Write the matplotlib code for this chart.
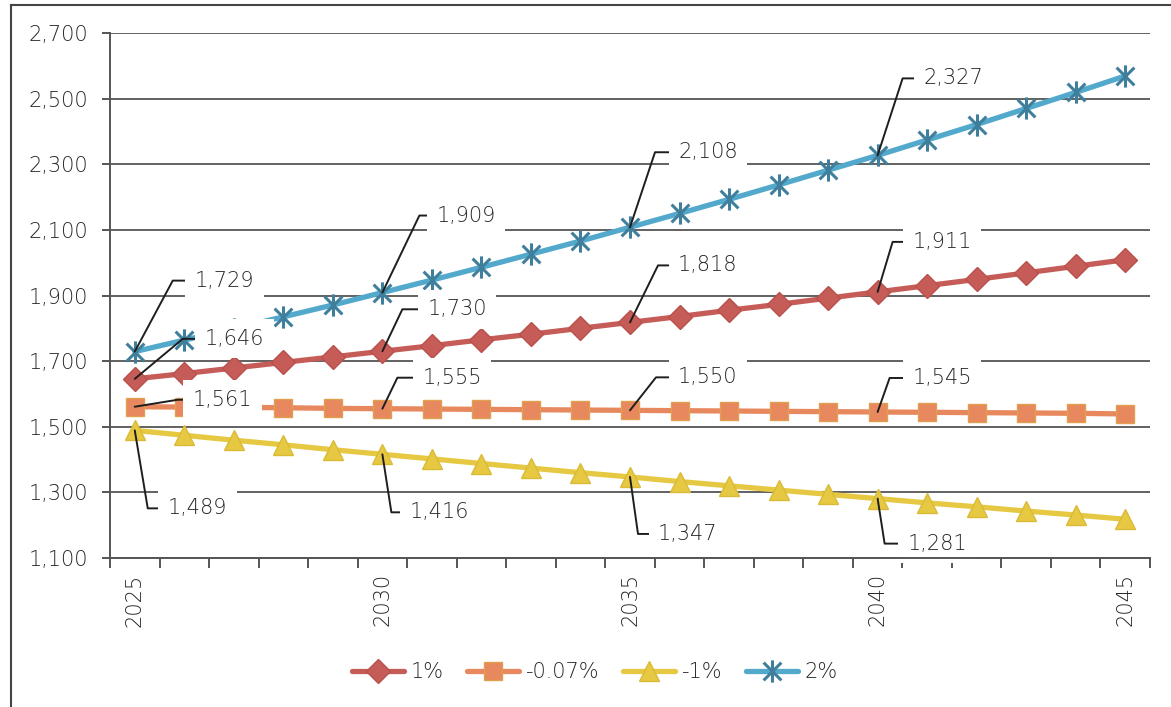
import math
import matplotlib
matplotlib.use("Agg")
import matplotlib.pyplot as plt
from matplotlib.path import Path
from matplotlib.lines import Line2D
from matplotlib.ticker import FuncFormatter, MultipleLocator, FixedLocator

# ---- data -------------------------------------------------------------
years = list(range(2025, 2046))
series_names = ["1%", "-0.07%", "-1%", "2%"]

growth_1 = [1646, 1662, 1679, 1696, 1713, 1730, 1747, 1765, 1782, 1800, 1818,
            1836, 1855, 1873, 1892, 1911, 1930, 1949, 1969, 1989, 2009]
growth_m007 = [1561, 1560, 1559, 1558, 1556, 1555, 1554, 1553, 1552, 1551, 1550,
               1549, 1548, 1547, 1546, 1545, 1544, 1543, 1542, 1541, 1539]
growth_m1 = [1489, 1474, 1459, 1445, 1430, 1416, 1402, 1388, 1374, 1360, 1347,
             1333, 1320, 1307, 1294, 1281, 1268, 1256, 1243, 1231, 1218]
growth_2 = [1729, 1764, 1799, 1835, 1871, 1909, 1947, 1986, 2026, 2066, 2108,
            2150, 2193, 2237, 2282, 2327, 2374, 2421, 2470, 2519, 2569]

labelled_years = [2025, 2030, 2035, 2040]
y_ticks = [1100, 1300, 1500, 1700, 1900, 2100, 2300, 2500, 2700]
x_tick_labels = [2025, 2030, 2035, 2040, 2045]

# ---- styling ----------------------------------------------------------
W, H = 1171, 707
TEXT = "#262626"
GRID = "#555555"
FS = 15
plt.rcParams["font.family"] = ["DejaVu Sans"]
plt.rcParams["font.weight"] = "light"

# asterisk marker: vertical bar plus two diagonals
ast = Path([(0, -1), (0, 1), (-0.8, -0.8), (0.8, 0.8), (-0.8, 0.8), (0.8, -0.8)],
           [Path.MOVETO, Path.LINETO, Path.MOVETO, Path.LINETO, Path.MOVETO, Path.LINETO])

styles = {
    "1%": dict(color="#C65C57", marker="D", ms=12.5, mfc="#C65C57", mec="#B8504C", mew=1),
    "-0.07%": dict(color="#E8885E", marker="s", ms=13, mfc="#E8885E", mec="#E0A050", mew=1),
    "-1%": dict(color="#E6C842", marker="^", ms=14, mfc="#E6C842", mec="#D9BB38", mew=1),
    "2%": dict(color="#52A9CC", marker=ast, ms=16, mfc="none", mec="#3F7F9C", mew=2.2),
}
values = {"1%": growth_1, "-0.07%": growth_m007, "-1%": growth_m1, "2%": growth_2}

# leader geometry per label in pixels: (elbow dx, elbow dy, text dx)
leaders = {
    "2%": [(38, 71, 60), (37, 77, 54), (25, 75, 48), (25, 77, 46)],
    "1%": [(48, 40, 70), (20, 42, 45), (28, 57, 48), (15, 50, 35)],
    "-0.07%": [(43, 7, 58), (15, 31, 40), (26, 33, 48), (12, 34, 35)],
    "-1%": [(13, -78, 33), (9, -58, 27), (8, -57, 28), (7, -45, 30)],
}

fig = plt.figure(figsize=(W / 100, H / 100), dpi=100)
ax = fig.add_axes([110 / W, 1 - 558 / H, 1040 / W, 525 / H])

handles = []
for name in series_names:
    st = styles[name]
    (ln,) = ax.plot(years, values[name], lw=3.8, color=st["color"], marker=st["marker"],
                    markersize=st["ms"], markerfacecolor=st["mfc"],
                    markeredgecolor=st["mec"], markeredgewidth=st["mew"],
                    solid_capstyle="round", zorder=3, label=name)
    handles.append(ln)

px = 0.72  # points per pixel at 100 dpi
for name in series_names:
    for yr, (ex, ey, tx) in zip(labelled_years, leaders[name]):
        v = values[name][years.index(yr)]
        angB = math.degrees(math.atan2(ey, ex))
        ax.annotate(f"{v:,}", xy=(yr, v), xytext=(tx * px, ey * px),
                    textcoords="offset points", ha="left", va="center",
                    fontsize=FS, color=TEXT, zorder=4,
                    bbox=dict(boxstyle="square,pad=0.45", fc="white", ec="none"),
                    arrowprops=dict(arrowstyle="-", color="#1e1e1e", lw=1.4,
                                    shrinkA=0, shrinkB=0, relpos=(0, 0.5),
                                    connectionstyle=f"angle,angleA=0,angleB={angB},rad=0"))

ax.set_xlim(2024.5, 2045.5)
ax.set_ylim(y_ticks[0], y_ticks[-1])
ax.yaxis.set_major_locator(FixedLocator(y_ticks))
ax.yaxis.set_major_formatter(FuncFormatter(lambda v, p: f"{int(v):,}"))
ax.xaxis.set_major_locator(FixedLocator(x_tick_labels))
ax.xaxis.set_minor_locator(MultipleLocator(1, offset=0.5))
ax.set_xticklabels([str(y) for y in x_tick_labels], rotation=90)

# horizontal gridlines sit above the label boxes
ax.set_axisbelow(False)
ax.grid(axis="y", color=GRID, lw=1.3)
for gl in ax.get_ygridlines():
    gl.set_zorder(4.5)
for s in ("top", "right"):
    ax.spines[s].set_visible(False)
for s in ("left", "bottom"):
    ax.spines[s].set_color(GRID)
    ax.spines[s].set_linewidth(1.4)
    ax.spines[s].set_zorder(4.6)

ax.tick_params(axis="y", which="major", length=6, width=1.4, color=GRID,
               labelsize=FS, labelcolor=TEXT, pad=10)
ax.tick_params(axis="x", which="major", length=0, labelsize=FS, labelcolor=TEXT, pad=11)
ax.tick_params(axis="x", which="minor", length=7, width=1.4, color=GRID)

fig.legend(handles, series_names, loc="center", bbox_to_anchor=(0.508, 1 - 672 / H),
           ncol=4, frameon=False, fontsize=FS, handlelength=2.5,
           handletextpad=0.35, columnspacing=1.1, labelcolor=TEXT)

# outer frame along the top and left edges
fx, fy = 11 / W, 1 - 5 / H
fig.add_artist(Line2D([fx, fx], [0, fy], transform=fig.transFigure, color="#444444", lw=1.5))
fig.add_artist(Line2D([fx, 1], [fy, fy], transform=fig.transFigure, color="#444444", lw=1.5))

fig.savefig("out.png", dpi=100, facecolor="white")
